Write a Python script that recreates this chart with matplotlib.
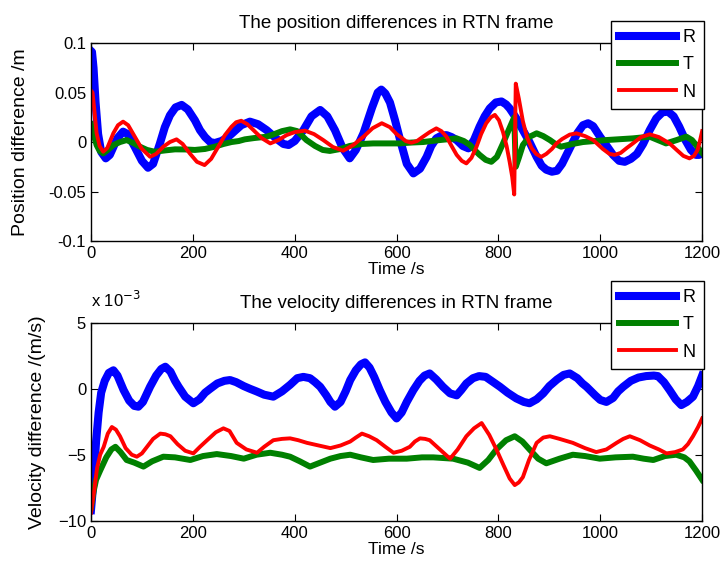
import matplotlib
matplotlib.use("Agg")
import matplotlib.pyplot as plt
from matplotlib.ticker import FixedLocator, FixedFormatter

plt.rcParams["font.family"] = ["Liberation Sans", "DejaVu Sans"]
plt.rcParams["font.size"] = 12
plt.rcParams["axes.unicode_minus"] = True

# position differences (m)
t_pos_r = [0, 2, 5, 9, 14, 20, 29, 37, 44, 52, 63, 72, 86, 100, 112, 122, 135, 145, 155, 166,
           178, 190, 204, 214, 224, 234, 243, 256, 269, 282, 295, 312, 328, 345, 365, 378,
           388, 400, 417, 433, 450, 464, 479, 494, 508, 520, 535, 552, 563, 570, 578, 587,
           597, 607, 620, 633, 646, 659, 668, 678, 688, 698, 708, 718, 730, 741, 752, 763,
           773, 783, 795, 806, 815, 822, 835, 848, 861, 875, 885, 894, 905, 915, 925, 940,
           955, 966, 976, 986, 1000, 1010, 1025, 1037, 1048, 1060, 1072, 1084, 1097, 1110,
           1122, 1133, 1144, 1155, 1167, 1178, 1188, 1194, 1200]
pos_r = [0.092, 0.091, 0.075, 0.040, 0.008, -0.010, -0.0165, -0.013, -0.005, 0.004, 0.0105,
         0.008, -0.005, -0.019, -0.026, -0.022, -0.002, 0.015, 0.027, 0.035, 0.0375, 0.033,
         0.022, 0.012, 0.005, 0.000, -0.001, 0.001, 0.005, 0.011, 0.017, 0.0206, 0.018,
         0.012, 0.003, -0.002, -0.003, 0.001, 0.012, 0.026, 0.0324, 0.026, 0.012, -0.006,
         -0.0165, -0.008, 0.0088, 0.035, 0.050, 0.053, 0.049, 0.040, 0.022, 0.002, -0.022,
         -0.0317, -0.027, -0.015, -0.004, 0.0037, 0.0065, 0.007, 0.005, 0.002, -0.004,
         -0.0064, 0.002, 0.0155, 0.026, 0.034, 0.040, 0.041, 0.038, 0.034, 0.024, 0.012,
         0.000, -0.015, -0.024, -0.028, -0.030, -0.029, -0.022, -0.0064, 0.009, 0.017, 0.019,
         0.016, 0.005, -0.002, -0.013, -0.019, -0.020, -0.017, -0.012, -0.002, 0.012, 0.024,
         0.030, 0.0307, 0.026, 0.0155, 0.002, -0.008, -0.013, -0.013, -0.011]

t_pos_t = [0, 5, 11, 17, 24, 33, 44, 57, 70, 83, 96, 110, 125, 145, 165, 185, 204, 224, 243,
           260, 276, 290, 302, 320, 345, 360, 375, 391, 405, 423, 440, 455, 469, 490, 508,
           530, 554, 580, 606, 630, 652, 685, 718, 732, 744, 755, 763, 775, 786, 797, 809,
           820, 831, 834, 840, 848, 860, 875, 888, 901, 912, 923, 945, 966, 1012, 1064, 1097,
           1113, 1129, 1150, 1169, 1180, 1188, 1195, 1200]
pos_t = [0.018, 0.008, -0.003, -0.009, -0.0115, -0.008, -0.003, 0.000, 0.002, -0.001,
         -0.0047, -0.008, -0.0098, -0.0085, -0.0074, -0.0075, -0.008, -0.007, -0.0047,
         -0.002, 0.0, 0.001, 0.0027, 0.004, 0.0054, 0.008, 0.011, 0.0128, 0.011, 0.002,
         -0.004, -0.008, -0.009, -0.007, -0.004, -0.002, -0.0014, -0.0014, -0.0014, -0.0005,
         0.0, 0.002, 0.0037, 0.001, -0.003, -0.009, -0.013, -0.018, -0.02, -0.015, -0.0014,
         0.012, 0.025, -0.025, -0.016, -0.003, 0.005, 0.0088, 0.006, 0.002, -0.002, -0.0047,
         -0.002, 0.0, 0.002, 0.0037, 0.0054, 0.002, -0.0014, 0.002, 0.0054, 0.002, -0.003,
         -0.008, -0.011]

t_pos_n = [0, 3, 7, 11, 17, 24, 32, 44, 53, 63, 73, 86, 100, 116, 128, 142, 155, 168, 180,
           194, 208, 223, 236, 250, 263, 276, 285, 295, 307, 319, 335, 352, 368, 384, 400,
           420, 438, 456, 475, 495, 515, 535, 553, 571, 587, 600, 607, 618, 629, 640, 652,
           665, 678, 688, 698, 708, 718, 728, 737, 747, 757, 766, 776, 785, 793, 801, 809,
           816, 822, 827, 831, 834, 840, 848, 856, 865, 874, 884, 894, 905, 914, 925, 940,
           953, 970, 986, 1005, 1018, 1028, 1040, 1052, 1064, 1080, 1097, 1115, 1136, 1150,
           1163, 1175, 1184, 1191, 1196, 1200]
pos_n = [0.052, 0.050, 0.030, 0.009, -0.004, -0.0098, -0.006, 0.009, 0.017, 0.0206, 0.017,
         0.0054, -0.007, -0.0149, -0.012, -0.0047, 0.000, 0.0027, -0.002, -0.0115, -0.020,
         -0.0233, -0.017, -0.0047, 0.007, 0.0155, 0.020, 0.0215, 0.018, 0.012, 0.004,
         -0.0014, 0.002, 0.007, 0.010, 0.0115, 0.008, 0.002, -0.005, -0.0088, -0.003,
         0.0054, 0.014, 0.019, 0.015, 0.008, 0.0054, 0.001, -0.0007, 0.001, 0.0054, 0.010,
         0.0138, 0.011, 0.0054, -0.004, -0.013, -0.019, -0.0216, -0.016, -0.0047, 0.008,
         0.019, 0.025, 0.0274, 0.022, 0.010, -0.004, -0.020, -0.035, -0.053, 0.059, 0.044,
         0.021, 0.005, -0.006, -0.012, -0.015, -0.012, -0.007, -0.0014, 0.003, 0.0075,
         0.0088, 0.006, 0.002, -0.007, -0.012, -0.013, -0.011, -0.006, -0.0014, 0.005,
         0.0078, 0.005, -0.0014, -0.008, -0.014, -0.0165, -0.014, -0.008, 0.002, 0.011]

# velocity differences (x 1e-3 m/s)
t_vel_r = [0, 5, 10, 15, 20, 27, 35, 44, 52, 64, 75, 85, 93, 102, 116, 128, 138, 146, 156,
           165, 172, 185, 201, 213, 224, 234, 248, 262, 273, 285, 300, 312, 325, 340, 358,
           375, 391, 405, 417, 430, 440, 450, 462, 470, 479, 490, 500, 509, 520, 530, 538,
           547, 556, 567, 578, 590, 600, 610, 620, 633, 645, 655, 665, 678, 691, 705, 718,
           727, 737, 750, 762, 775, 790, 803, 818, 835, 850, 861, 875, 888, 900, 915, 928,
           940, 955, 965, 973, 990, 1000, 1012, 1025, 1035, 1045, 1060, 1075, 1090, 1105,
           1113, 1125, 1136, 1148, 1159, 1170, 1182, 1192, 1200]
vel_r = [-9.2, -7.0, -4.0, -1.8, -0.3, 0.6, 1.2, 1.4, 1.0, -0.1, -0.9, -1.3, -1.36, -1.0,
         0.15, 1.0, 1.5, 1.67, 1.3, 0.6, 0.15, -0.6, -1.1, -0.8, -0.3, 0.0, 0.4, 0.6, 0.66,
         0.5, 0.2, 0.0, -0.2, -0.45, -0.6, -0.2, 0.3, 0.8, 0.9, 0.8, 0.5, 0.15, -0.5, -1.0,
         -1.36, -1.0, -0.2, 0.66, 1.4, 1.85, 2.0, 1.6, 0.9, -0.1, -1.0, -1.8, -2.25, -1.8,
         -1.0, -0.1, 0.6, 1.0, 1.16, 0.7, 0.15, -0.35, -0.5, -0.1, 0.4, 0.8, 0.96, 0.9, 0.5,
         0.15, -0.3, -0.73, -1.0, -1.1, -0.8, -0.35, 0.2, 0.7, 1.05, 1.16, 0.8, 0.4, 0.15,
         -0.5, -0.85, -1.0, -0.7, -0.2, 0.15, 0.6, 0.85, 0.96, 1.0, 0.96, 0.5, -0.1, -0.8,
         -1.24, -1.0, -0.6, 0.2, 1.0]

t_vel_t = [0, 5, 10, 18, 30, 40, 48, 58, 70, 85, 103, 120, 142, 165, 195, 220, 247, 275,
           300, 325, 352, 375, 391, 410, 430, 450, 470, 490, 509, 530, 554, 585, 620, 650,
           672, 711, 740, 763, 780, 796, 815, 832, 847, 861, 878, 894, 920, 946, 970, 999,
           1030, 1064, 1085, 1104, 1127, 1149, 1165, 1175, 1188, 1200]
vel_t = [-9.0, -7.8, -6.9, -6.2, -5.2, -4.6, -4.4, -4.8, -5.4, -5.6, -5.9, -5.5, -5.15,
         -5.2, -5.4, -5.1, -4.95, -5.1, -5.3, -5.0, -4.85, -5.0, -5.15, -5.5, -5.9, -5.6,
         -5.3, -5.1, -5.0, -5.2, -5.4, -5.3, -5.3, -5.2, -5.2, -5.3, -5.6, -6.0, -5.4,
         -4.6, -3.9, -3.6, -4.0, -4.6, -5.3, -5.65, -5.3, -5.0, -5.1, -5.3, -5.2, -5.15,
         -5.3, -5.4, -5.1, -5.0, -5.2, -5.5, -6.2, -6.9]

t_vel_n = [0, 6, 12, 18, 25, 33, 41, 49, 57, 68, 80, 90, 100, 110, 122, 136, 146, 156, 170,
           185, 201, 214, 228, 245, 260, 272, 286, 305, 326, 340, 358, 375, 391, 407, 424,
           447, 470, 490, 509, 520, 532, 546, 561, 578, 594, 610, 626, 636, 646, 656, 665,
           685, 705, 720, 737, 752, 767, 782, 796, 810, 822, 832, 840, 848, 860, 875, 888,
           901, 920, 946, 970, 992, 1012, 1032, 1045, 1058, 1078, 1097, 1115, 1130, 1147,
           1162, 1172, 1182, 1192, 1200]
vel_n = [-9.4, -7.8, -6.0, -5.0, -4.4, -3.4, -2.9, -3.1, -3.6, -4.5, -5.0, -5.15, -4.9,
         -4.4, -3.8, -3.4, -3.45, -3.6, -4.2, -4.7, -4.9, -4.4, -3.9, -3.3, -3.0, -3.2,
         -4.1, -4.6, -4.85, -4.4, -3.9, -3.8, -3.76, -3.9, -4.1, -4.3, -4.5, -4.3, -4.0,
         -3.7, -3.4, -3.6, -3.9, -4.4, -4.85, -4.7, -4.4, -4.0, -3.76, -3.8, -3.9, -4.6,
         -5.3, -4.6, -3.6, -3.0, -2.6, -3.5, -4.6, -5.8, -6.8, -7.3, -7.1, -6.7, -5.4,
         -4.1, -3.7, -3.6, -3.8, -4.1, -4.5, -4.8, -4.6, -4.1, -3.8, -3.6, -3.9, -4.3,
         -4.6, -4.9, -4.8, -4.6, -4.2, -3.6, -2.9, -2.25]

labels = ["R", "T", "N"]
colors = ["#0000ff", "#008000", "#ff0000"]
widths = [5.8, 4.3, 2.8]
x_ticks = [0, 200, 400, 600, 800, 1000, 1200]

fig = plt.figure(figsize=(7.25, 5.72), dpi=100)
ax1 = fig.add_axes([0.1255, 0.5787, 0.843, 0.346])
ax2 = fig.add_axes([0.1255, 0.0897, 0.843, 0.346])

for t, v, c, w, l in zip([t_pos_r, t_pos_t, t_pos_n], [pos_r, pos_t, pos_n], colors, widths, labels):
    ax1.plot(t, v, color=c, lw=w, label=l, solid_joinstyle="round")
for t, v, c, w, l in zip([t_vel_r, t_vel_t, t_vel_n], [vel_r, vel_t, vel_n], colors, widths, labels):
    ax2.plot(t, v, color=c, lw=w, label=l, solid_joinstyle="round")

ax1.set_xlim(0, 1200)
ax1.set_ylim(-0.1, 0.1)
ax1.yaxis.set_major_locator(FixedLocator([-0.1, -0.05, 0, 0.05, 0.1]))
ax1.yaxis.set_major_formatter(FixedFormatter(["-0.1", "-0.05", "0", "0.05", "0.1"]))
ax1.set_title("The position differences in RTN frame", fontsize=13.5, pad=11)
ax1.set_ylabel("Position difference /m", fontsize=14)
ax1.set_xlabel("Time /s", fontsize=12.5, labelpad=1)
ax1.yaxis.set_label_coords(-0.101, 0.5)

ax2.set_xlim(0, 1200)
ax2.set_ylim(-10, 5)
ax2.set_yticks([-10, -5, 0, 5])
ax2.set_title("The velocity differences in RTN frame", fontsize=13.5, pad=11)
ax2.set_ylabel("Velocity difference /(m/s)", fontsize=14)
ax2.set_xlabel("Time /s", fontsize=12.5, labelpad=1)
ax2.yaxis.set_label_coords(-0.074, 0.5)
ax2.text(0.0, 1.08, "x 10$^{-3}$", transform=ax2.transAxes, fontsize=12, va="baseline")

for ax in (ax1, ax2):
    ax.set_xticks(x_ticks)
    ax.tick_params(direction="in", top=True, right=True, length=5, width=0.8)
    for s in ax.spines.values():
        s.set_linewidth(1.0)

leg_kw = dict(loc="upper right", borderaxespad=0, fancybox=False, framealpha=1,
              edgecolor="black", handlelength=3.15, labelspacing=0.57, fontsize=13,
              borderpad=0.45, handletextpad=0.4)
leg1 = ax1.legend(bbox_to_anchor=(704 / 725, 1 - 21 / 572), bbox_transform=fig.transFigure, **leg_kw)
leg2 = ax2.legend(bbox_to_anchor=(704 / 725, 1 - 281 / 572), bbox_transform=fig.transFigure, **leg_kw)
for leg in (leg1, leg2):
    leg.get_frame().set_linewidth(1.0)

fig.savefig("out.png", dpi=100)
